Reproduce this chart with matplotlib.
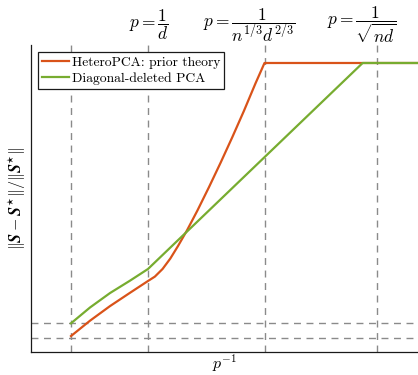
import matplotlib
matplotlib.use("Agg")
import matplotlib.pyplot as plt
import matplotlib.transforms as mtransforms

plt.rcParams["mathtext.fontset"] = "cm"

# Regime boundaries on the p^{-1} axis (arbitrary units)
boundaries = [10.34, 30.23, 60.34, 89.4]
boundary_labels = [r"$p=\dfrac{1}{d}$",
                   r"$p=\dfrac{1}{n^{1/3}d^{2/3}}$",
                   r"$p=\dfrac{1}{\sqrt{nd}}$"]
label_x = [30.5, 56.3, 85.5]

# Error floors
floors = [9.35, 4.56]

# HeteroPCA (prior theory)
hetero_x = [10.34, 15.25, 20.41, 25.6, 30.23, 32.0, 34.0, 36.0, 38.0, 40.3,
            43.0, 46.0, 49.0, 52.0, 55.0, 58.0, 60.34, 100.0]
hetero_y = [5.2, 10.2, 14.95, 19.3, 23.13, 24.55, 27.05, 30.45, 34.55, 39.6,
            46.08, 53.73, 61.68, 69.93, 78.48, 87.48, 94.14, 94.14]

# Diagonal-deleted PCA
diag_x = [10.34, 15.25, 20.41, 25.6, 30.23, 85.7, 100.0]
diag_y = [9.35, 14.5, 19.2, 23.25, 27.04, 94.14, 94.14]

fig = plt.figure(figsize=(4.18, 3.75), dpi=100)
ax = fig.add_axes([31 / 418, 23 / 375, 387 / 418, 307 / 375])

dash_kw = dict(color="#8a8a8a", lw=1.0, dashes=(5, 4), zorder=1)
for xv in boundaries:
    ax.axvline(xv, **dash_kw)
for yv in floors:
    ax.axhline(yv, **dash_kw)

ax.plot(hetero_x, hetero_y, color="#D95319", lw=1.6, label="HeteroPCA: prior theory",
        zorder=3)
ax.plot(diag_x, diag_y, color="#77AC30", lw=1.6, label="Diagonal-deleted PCA",
        zorder=4)

ax.set_xlim(0, 100)
ax.set_ylim(0, 100)
ax.set_xticks([])
ax.set_yticks([])
for side in ("top", "right"):
    ax.spines[side].set_visible(False)
for side in ("left", "bottom"):
    ax.spines[side].set_color("#1a1a1a")
    ax.spines[side].set_linewidth(0.9)

trans = mtransforms.blended_transform_factory(ax.transData, ax.transAxes)
for xv, txt in zip(label_x, boundary_labels):
    ax.text(xv, 1.065, txt, transform=trans, ha="center", va="center",
            fontsize=12.5, clip_on=False)

fig.text(224.5 / 418, 1 - 363 / 375, r"$p^{-1}$", fontsize=11.5,
         ha="center", va="center")
ax.set_ylabel(r"$\|\boldsymbol{S}-\boldsymbol{S}^{\star}\|/\|\boldsymbol{S}^{\star}\|$",
              fontsize=11.5, labelpad=2)

leg = ax.legend(loc="upper left", bbox_to_anchor=(0.018, 0.977), borderaxespad=0,
                prop={"family": "cmr10", "size": 9.8}, fancybox=False,
                framealpha=1, edgecolor="#1a1a1a", handlelength=2.0,
                handletextpad=0.2, borderpad=0.3, labelspacing=0.25)
leg.get_frame().set_linewidth(0.9)

fig.savefig("out.png", dpi=100)
